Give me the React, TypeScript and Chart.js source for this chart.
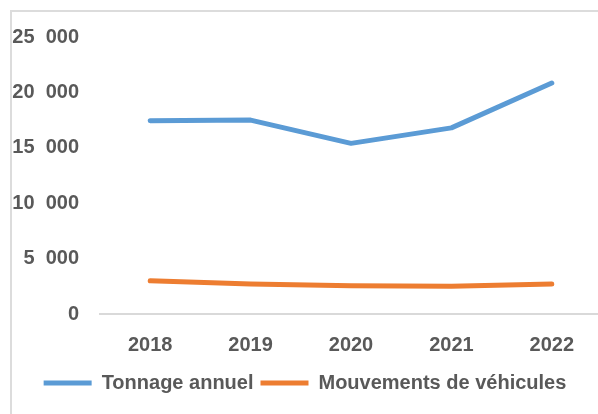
import React, { useEffect, useRef } from "react";
import { Chart, registerables } from "chart.js";
Chart.register(...registerables);

const years = ["2018", "2019", "2020", "2021", "2022"];
const tonnage = [17450, 17500, 15400, 16800, 20850];
const mouvements = [3000, 2700, 2550, 2500, 2700];
const yTickValues = [0, 5000, 10000, 15000, 20000, 25000];
const yTickLabels = ["0", "5  000", "10  000", "15  000", "20  000", "25  000"];

const FONT = "'Liberation Sans', Arial, sans-serif";
const TEXT = "#595959";
const FS = 20;

export default function App() {
  const ref = useRef<HTMLCanvasElement | null>(null);
  useEffect(() => {
    if (!ref.current) return;
    const chart = new Chart(ref.current, {
      type: "line",
      data: {
        labels: years,
        datasets: [
          {
            label: "Tonnage annuel",
            data: tonnage,
            borderColor: "#5B9BD5",
            backgroundColor: "#5B9BD5",
            borderWidth: 5,
            borderCapStyle: "round",
            borderJoinStyle: "round",
            pointRadius: 0,
            tension: 0,
          },
          {
            label: "Mouvements de véhicules",
            data: mouvements,
            borderColor: "#ED7D31",
            backgroundColor: "#ED7D31",
            borderWidth: 5,
            borderCapStyle: "round",
            borderJoinStyle: "round",
            pointRadius: 0,
            tension: 0,
          },
        ],
      },
      options: {
        animation: false,
        responsive: false,
        maintainAspectRatio: false,
        layout: { padding: { top: 37, right: 8, bottom: 27, left: 8 } },
        plugins: {
          tooltip: { enabled: false },
          legend: {
            position: "bottom",
            labels: {
              usePointStyle: true,
              pointStyle: "line",
              pointStyleWidth: 48,
              boxHeight: FS,
              padding: 7,
              color: TEXT,
              font: { family: FONT, size: FS, weight: "bold" },
            },
          },
        },
        scales: {
          x: {
            offset: true,
            grid: { display: false, drawTicks: false },
            border: { display: true, color: "#d9d9d9", width: 2 },
            ticks: {
              color: TEXT,
              padding: 19,
              font: { family: FONT, size: FS, weight: "bold" },
            },
            afterFit: (s: any) => {
              s.height = 52;
            },
          },
          y: {
            min: 0,
            max: 25000,
            grid: { display: false, drawTicks: false },
            border: { display: false },
            afterBuildTicks: (s: any) => {
              s.ticks = yTickValues.map((v) => ({ value: v }));
            },
            ticks: {
              color: TEXT,
              padding: 21,
              font: { family: FONT, size: FS, weight: "bold" },
              callback: (v: any) => {
                const i = yTickValues.indexOf(Number(v));
                return i >= 0 ? yTickLabels[i] : "";
              },
            },
            afterFit: (s: any) => {
              s.width = 92;
            },
          },
        },
      },
    });
    return () => chart.destroy();
  }, []);
  return (
    <div>
      <div
        style={{
          position: "fixed",
          left: 10,
          top: 10,
          width: 640,
          height: 440,
          border: "2px solid #dcdcdc",
          boxSizing: "border-box",
        }}
      />
      <div style={{ position: "fixed", left: 0, top: 0, width: 610, height: 430 }}>
        <canvas ref={ref} width={610} height={430} style={{ width: 610, height: 430 }} />
      </div>
    </div>
  );
}
